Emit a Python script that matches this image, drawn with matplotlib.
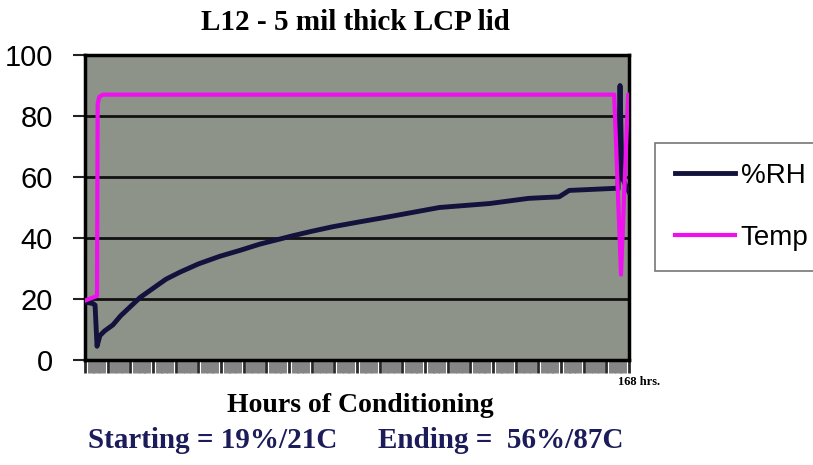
import matplotlib.pyplot as plt
import numpy as np

# %RH readings (hours, value)
rh_hours = [0, 2.5, 3.1, 3.7, 4.6, 6, 8.6, 11, 14, 17, 21, 25, 29.3, 35, 41.6,
            48, 54, 64, 70, 76.5, 84.8, 94, 109.4, 124.9, 137, 146.4, 149.5,
            164, 164.6, 165.2, 165.8, 167, 168]
rh = [19, 18.5, 18, 4.5, 8, 9.5, 11.5, 14.5, 17.5, 20.5, 23.5, 26.5, 28.8,
      31.5, 34, 36, 38, 40.7, 42.2, 43.7, 45.3, 47, 50, 51.3, 53, 53.5, 55.6,
      56.3, 56, 90, 60, 57, 55]

# Temperature readings (hours, value)
temp_hours = [0, 3.7, 3.9, 4.4, 5.5, 163.4, 165.5, 167.7, 168]
temp = [19.5, 21, 84, 86.3, 87, 87, 28, 87, 87]

y_ticks = [0, 20, 40, 60, 80, 100]

fig = plt.figure(figsize=(8.13, 4.65), dpi=100)
ax = fig.add_axes([0.1046, 0.2258, 0.6692, 0.6559])
ax.set_facecolor('#8e9389')

ax.plot(rh_hours, rh, color='#12123c', lw=3.5, label='%RH', zorder=3)
ax.plot(temp_hours, temp, color='#ee10ee', lw=3, label='Temp', zorder=4)

ax.set_xlim(0, 168)
ax.set_ylim(0, 100)
ax.set_yticks(y_ticks)
ax.set_yticklabels([str(v) for v in y_ticks], family='Liberation Sans',
                   fontsize=21)
for v in y_ticks[1:-1]:
    ax.axhline(v, color='#111111', lw=2, zorder=1)

ax.set_xticks(np.arange(0, 169, 7))
ax.set_xticks(np.arange(0, 169, 1.75), minor=True)
ax.set_xticklabels([])
ax.tick_params(axis='x', which='major', length=9, width=2, color='#2a2a2a')
ax.tick_params(axis='x', which='minor', length=9, width=5, color='#858585')
ax.tick_params(axis='y', length=9, width=1.5, color='#222222', pad=14)

for s in ax.spines.values():
    s.set_linewidth(2.5)
    s.set_color('black')

fig.text(0.437, 0.952, 'L12 - 5 mil thick LCP lid', family='Liberation Serif',
         fontsize=21, fontweight='bold', ha='center', va='center')
fig.text(0.443, 0.128, 'Hours of Conditioning', family='Liberation Serif',
         fontsize=20, fontweight='bold', ha='center', va='center')
fig.text(0.76, 0.178, '168 hrs.', family='Liberation Serif', fontsize=9,
         fontweight='bold', ha='left', va='center')
fig.text(0.108, 0.053, 'Starting = 19%/21C', family='Liberation Serif',
         fontsize=21, fontweight='bold', ha='left', va='center',
         color='#1c1c5a')
fig.text(0.465, 0.053, 'Ending =  56%/87C', family='Liberation Serif',
         fontsize=21, fontweight='bold', ha='left', va='center',
         color='#1c1c5a')

leg = fig.legend(loc='upper left', bbox_to_anchor=(0.8057, 0.6925),
                 borderaxespad=0,
                 prop={'family': 'Liberation Sans', 'size': 20},
                 handlelength=2.16, handletextpad=0.2, borderpad=0.72,
                 labelspacing=1.3, fancybox=False, edgecolor='#555555')
leg.get_frame().set_linewidth(1.2)

fig.savefig('out.png', dpi=100)
